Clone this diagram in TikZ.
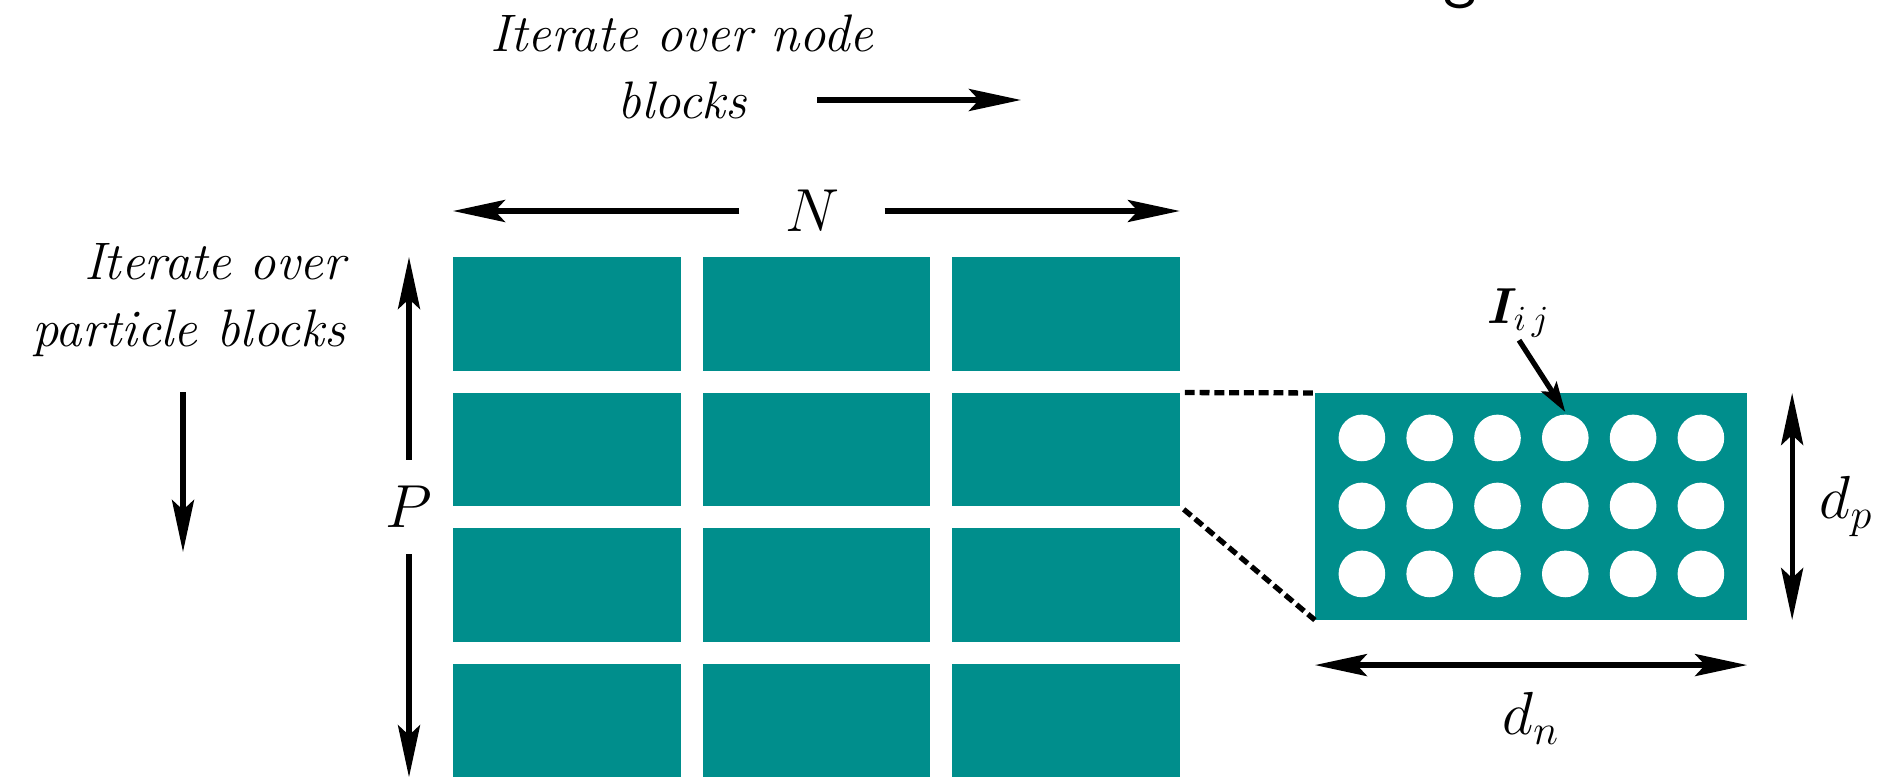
\documentclass[tikz,border=0pt]{standalone}
\usepackage{bm}
\usetikzlibrary{positioning, calc, arrows.meta}
\definecolor{blockteal}{RGB}{0,142,140}

\begin{document}
\begin{tikzpicture}[x=0.01cm, y=-0.01cm, node distance=2.2mm and 2.2mm, line width=1.5pt,
>={Stealth[length=5.2mm, width=2.2mm, inset=1mm]},
blk/.style={rectangle, fill=blockteal, minimum width=22.75mm, minimum height=11.35mm, inner sep=0, outer sep=0},
hole/.style={circle, fill=white, minimum size=4.66mm, inner sep=0},
lbl/.style={font=\itshape\fontsize{15}{19}\selectfont, inner sep=0},
mathlbl/.style={font=\fontsize{17.28}{20}\selectfont, inner sep=0},
dashlink/.style={dash pattern=on 2.8pt off 1.4pt, shorten <=0.5mm},
smallhead/.style={-{Stealth[length=3mm, width=1.8mm, inset=0.6mm]}} ]
\useasboundingbox (0,0) rectangle (1883,776);

\node (ttl) [anchor=base west, font=\sffamily\fontsize{20}{20}\selectfont, inner sep=0] at (1441,-5) {g};

\node (itn) [lbl, align=center] at (682,67) {Iterate over node\\blocks};
\coordinate (nb0) at (817,100);
\coordinate (nb1) at (1021,100);
\path (nb0) edge[->] (nb1);

\node (itp) [lbl, align=right, anchor=east] at (348,300) {Iterate over\\particle blocks};
\coordinate (pb0) at (183,392);
\coordinate (pb1) at (183,552);
\path (pb0) edge[->] (pb1);

\node (A1) [blk] at (566.75,313.75) {};
\node (A2) [blk, right = of A1] {};
\node (A3) [blk, right = of A2] {};
\node (B1) [blk, below = of A1] {};
\node (B2) [blk, right = of B1] {};
\node (B3) [blk, right = of B2] {};
\node (C1) [blk, below = of B1] {};
\node (C2) [blk, right = of C1] {};
\node (C3) [blk, right = of C2] {};
\node (D1) [blk, below = of C1] {};
\node (D2) [blk, right = of D1] {};
\node (D3) [blk, right = of D2] {};

\node (N) [mathlbl, inner xsep=4.3mm] at (812,211) {$N$};
\path (N) edge[->] (N -| A1.west);
\path (N) edge[->] (N -| A3.east);

\node (P) [mathlbl, inner ysep=2.4mm] at (409,507) {$P$};
\path (P) edge[->] (P |- A1.north);
\path (P) edge[->] (P |- D1.south);

\node (Z) [blk, minimum width=43.2mm, minimum height=22.7mm] at (1531,506.5) {};
\foreach \row in {0,1,2}
  \foreach \col in {0,...,5}
    \node (Z-\row-\col) [hole] at ($(Z.north west)+(47+67.8*\col,45+68*\row)$) {};

\path (B3.north east) edge[dashlink] (Z.north west);
\path (B3.south east) edge[dashlink] (Z.south west);

\node (I) [font=\fontsize{14.4}{17}\selectfont, inner sep=0] at (1519,313) {$\bm{I}_{i\,j}$};
\path (I.south) edge[smallhead] (Z-0-3.north);

\path ($(Z.north east)+(45,0)$) edge[<->] node[mathlbl, right=2.5mm] {$d_p$} ($(Z.south east)+(45,0)$);
\path ($(Z.south west)+(0,45)$) edge[<->] node[mathlbl, below=2.5mm] {$d_n$} ($(Z.south east)+(0,45)$);

\end{tikzpicture}
\end{document}
